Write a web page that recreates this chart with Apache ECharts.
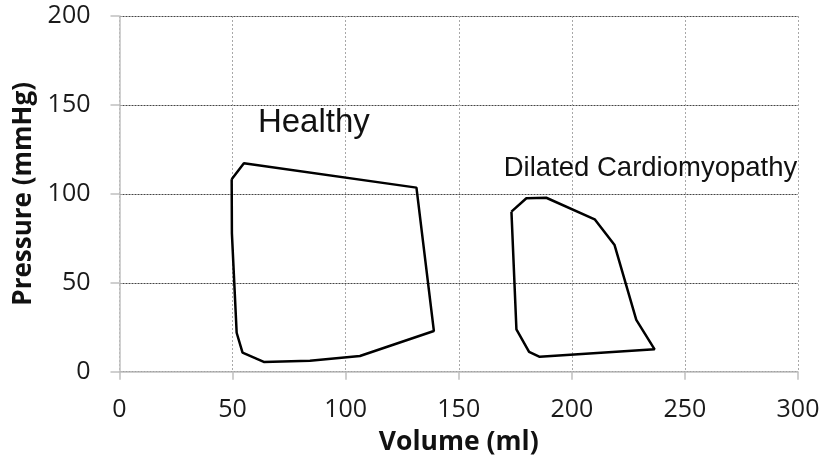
<!DOCTYPE html>
<html>
<head>
<meta charset="utf-8">
<script src="https://cdn.jsdelivr.net/npm/echarts@6/dist/echarts.min.js"></script>
<style>html,body{margin:0;padding:0;background:#fff}#c{width:829px;height:463px}</style>
</head>
<body>
<div id="c"></div>
<script>
// Volume (ml), Pressure (mmHg) loops
var healthyVolume   = [49.6, 55.0, 131.3, 139.0, 106.3, 84.2, 63.8, 54.4, 51.8, 50.9, 49.7, 49.6];
var healthyPressure = [108.2, 117.2, 103.5, 22.9, 8.8, 6.2, 5.5, 10.7, 21.9, 45.9, 77.8, 108.2];
var dilatedVolume   = [173.3, 179.9, 188.7, 210.1, 218.9, 228.5, 236.6, 185.8, 181.1, 175.5, 173.3];
var dilatedPressure = [90.0, 97.5, 97.8, 85.7, 71.2, 29.1, 12.6, 8.4, 11.2, 23.8, 90.0];
var annotationText  = ['Healthy', 'Dilated Cardiomyopathy'];
var annotationX     = [61.2, 169.9];
var annotationY     = [139.8, 114.5];
var xTicks = [0, 50, 100, 150, 200, 250, 300];
var yTicks = [0, 50, 100, 150, 200];

function pairs(xs, ys) { return xs.map(function (x, i) { return [x, ys[i]]; }); }

var chart = echarts.init(document.getElementById('c'));
var tickFont = { fontFamily: 'Open Sans', fontSize: 25, color: '#1a1a1a' };
chart.setOption({
  animation: false,
  grid: { left: 119.5, right: 31, top: 16, bottom: 91.3 },
  xAxis: {
    type: 'value', min: xTicks[0], max: xTicks[xTicks.length - 1], interval: 50,
    name: 'Volume (ml)', nameLocation: 'middle', nameGap: 57,
    nameTextStyle: { fontFamily: 'Open Sans', fontWeight: 'bold', fontSize: 26.5, color: '#111' },
    axisLine: { show: true, lineStyle: { color: '#c0c0c0', width: 1.5 } },
    axisTick: { show: true, inside: false, length: 8, lineStyle: { color: '#c0c0c0', width: 1.5 } },
    axisLabel: Object.assign({ margin: 26 }, tickFont),
    splitLine: { show: true, lineStyle: { color: '#a8a8a8', type: [2, 2], width: 1 } }
  },
  yAxis: {
    type: 'value', min: yTicks[0], max: yTicks[yTicks.length - 1], interval: 50,
    name: 'Pressure (mmHg)', nameLocation: 'middle', nameGap: 78,
    nameTextStyle: { fontFamily: 'Open Sans', fontWeight: 'bold', fontSize: 26, color: '#111' },
    axisLine: { show: true, lineStyle: { color: '#c0c0c0', width: 1.5 } },
    axisTick: { show: true, inside: false, length: 9, lineStyle: { color: '#c0c0c0', width: 1.5 } },
    axisLabel: Object.assign({ margin: 29 }, tickFont),
    splitLine: { show: true, lineStyle: { color: '#444', type: [2, 1], width: 1 } }
  },
  series: [
    { type: 'line', data: pairs(healthyVolume, healthyPressure), showSymbol: false, symbol: 'none',
      lineStyle: { color: '#000', width: 2.5 }, z: 3 },
    { type: 'line', data: pairs(dilatedVolume, dilatedPressure), showSymbol: false, symbol: 'none',
      lineStyle: { color: '#000', width: 2.5 }, z: 3 },
    { type: 'scatter', symbolSize: 0, z: 4, itemStyle: { opacity: 1 }, silent: true,
      data: annotationText.map(function (t, i) {
        return { value: [annotationX[i], annotationY[i]], name: t,
          label: { fontSize: i === 0 ? 33 : 27.5 } };
      }),
      label: { show: true, position: [0, 0], align: 'left', verticalAlign: 'middle',
        fontFamily: 'Liberation Sans', color: '#111', opacity: 1,
        formatter: function (p) { return p.name; } }
    }
  ]
});
</script>
</body>
</html>
